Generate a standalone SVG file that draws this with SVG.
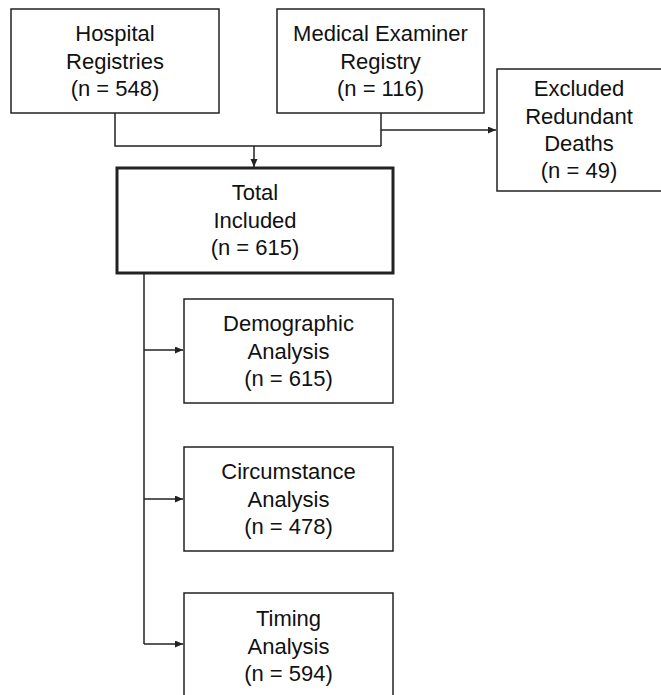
<svg xmlns="http://www.w3.org/2000/svg" width="661" height="695" viewBox="0 0 661 695">
<style>
.box{fill:#fff;stroke:#222;stroke-width:1.5}
.bold{stroke-width:3}
.t{font-family:"Liberation Sans",Arial,sans-serif;font-size:22px;fill:#111;text-anchor:middle}
.c{fill:none;stroke:#222;stroke-width:1.5}
</style>
<defs>
<marker id="ah" markerUnits="userSpaceOnUse" markerWidth="9" markerHeight="8" refX="8" refY="3.5" orient="auto">
<path d="M0,0 L8,3.5 L0,7 z" fill="#222"/>
</marker>
</defs>
<g id="connectors">
<path class="c" d="M115,113 V146 H381"/>
<path class="c" d="M381,113 V146"/>
<path class="c" d="M254,146 V167" marker-end="url(#ah)"/>
<path class="c" d="M381,130 H496" marker-end="url(#ah)"/>
<path class="c" d="M144,273 V644"/>
<path class="c" d="M144,350 H183" marker-end="url(#ah)"/>
<path class="c" d="M144,499 H183" marker-end="url(#ah)"/>
<path class="c" d="M144,644 H183" marker-end="url(#ah)"/>
</g>
<g id="hospital">
<rect class="box" x="11" y="9" width="208" height="104"/>
<text class="t" x="115" y="41">Hospital</text>
<text class="t" x="115" y="68.5">Registries</text>
<text class="t" x="115" y="96">(n = 548)</text>
</g>
<g id="medical">
<rect class="box" x="277" y="9" width="207" height="104"/>
<text class="t" x="380.5" y="41">Medical Examiner</text>
<text class="t" x="380.5" y="68.5">Registry</text>
<text class="t" x="380.5" y="96">(n = 116)</text>
</g>
<g id="excluded">
<rect class="box" x="497" y="69" width="166" height="122"/>
<text class="t" x="579" y="96">Excluded</text>
<text class="t" x="579" y="123.5">Redundant</text>
<text class="t" x="579" y="151">Deaths</text>
<text class="t" x="579" y="178">(n = 49)</text>
</g>
<g id="total">
<rect class="box bold" x="117" y="168" width="276" height="105"/>
<text class="t" x="255" y="200">Total</text>
<text class="t" x="255" y="228">Included</text>
<text class="t" x="255" y="255">(n = 615)</text>
</g>
<g id="demographic">
<rect class="box" x="184" y="299" width="209" height="104"/>
<text class="t" x="288.5" y="331">Demographic</text>
<text class="t" x="288.5" y="358.5">Analysis</text>
<text class="t" x="288.5" y="386">(n = 615)</text>
</g>
<g id="circumstance">
<rect class="box" x="184" y="447" width="209" height="104"/>
<text class="t" x="288.5" y="479">Circumstance</text>
<text class="t" x="288.5" y="506.5">Analysis</text>
<text class="t" x="288.5" y="534">(n = 478)</text>
</g>
<g id="timing">
<rect class="box" x="184" y="593" width="209" height="106"/>
<text class="t" x="288.5" y="626">Timing</text>
<text class="t" x="288.5" y="653.5">Analysis</text>
<text class="t" x="288.5" y="681">(n = 594)</text>
</g>
</svg>
